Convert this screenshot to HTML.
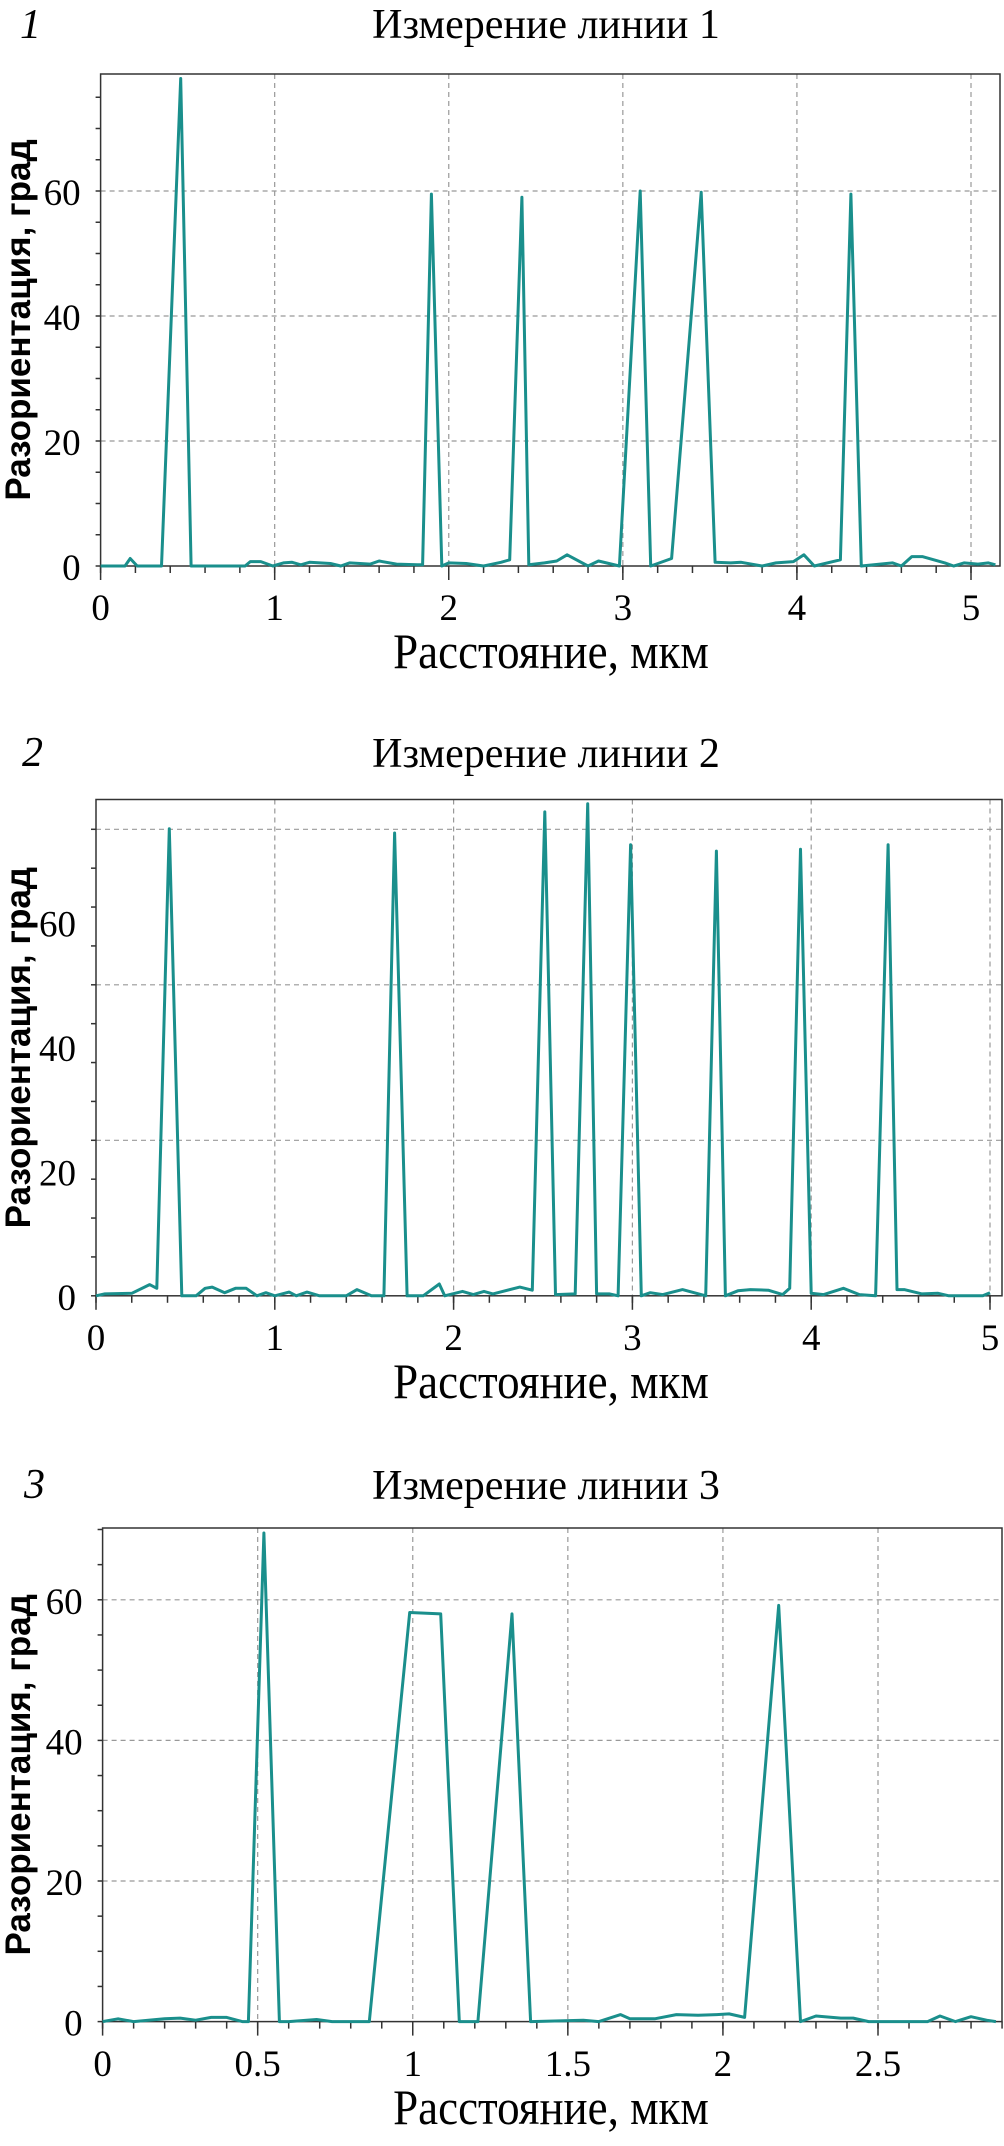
<!DOCTYPE html>
<html><head><meta charset="utf-8">
<style>
html,body{margin:0;padding:0;background:#fff;}
svg{display:block;}
text{font-family:"Liberation Serif",serif;fill:#000;}
</style></head>
<body>
<svg id="fig" width="1004" height="2146" viewBox="0 0 1004 2146" xmlns="http://www.w3.org/2000/svg"></svg>
<script>
// Chart 1 data
const x1 = [0,0.14,0.17,0.21,0.35,0.46,0.52,0.83,0.86,0.92,0.99,1.05,1.1,1.15,1.2,1.32,1.38,1.43,1.55,1.6,1.7,1.82,1.85,1.9,1.96,2.0,2.1,2.2,2.3,2.35,2.42,2.46,2.55,2.62,2.68,2.8,2.86,2.98,3.1,3.16,3.2,3.28,3.45,3.53,3.62,3.68,3.8,3.88,3.98,4.04,4.1,4.25,4.31,4.37,4.55,4.6,4.66,4.72,4.85,4.9,4.96,5.04,5.1,5.14];
const y1 = [0,0,1.2,0,0,78,0,0,0.7,0.7,0,0.5,0.6,0.2,0.6,0.4,0,0.5,0.3,0.8,0.3,0.2,0.2,59.5,0,0.5,0.4,0,0.6,1.0,59,0.2,0.5,0.8,1.8,0,0.8,0,60,0,0.4,1.2,59.8,0.6,0.5,0.6,0,0.5,0.7,1.8,0,1.0,59.5,0,0.5,0,1.5,1.5,0.5,0,0.5,0.3,0.5,0.2];
const xTicks1 = ["0","1","2","3","4","5"];
const yTicks1 = ["0","20","40","60"];
// Chart 2 data
const x2 = [0,0.05,0.2,0.3,0.34,0.41,0.48,0.56,0.61,0.65,0.72,0.78,0.84,0.9,0.95,1.0,1.08,1.12,1.18,1.25,1.4,1.46,1.54,1.61,1.67,1.74,1.83,1.92,1.95,2.05,2.11,2.17,2.22,2.37,2.44,2.51,2.57,2.68,2.75,2.8,2.87,2.92,2.99,3.05,3.1,3.17,3.28,3.41,3.47,3.52,3.59,3.66,3.76,3.84,3.88,3.94,4.0,4.07,4.18,4.27,4.36,4.43,4.48,4.52,4.62,4.71,4.77,4.96,5.0];
const y2 = [0,0.3,0.4,1.8,1.2,75.1,0,0,1.2,1.4,0.5,1.2,1.2,0,0.5,0,0.6,0,0.6,0,0,1.0,0,0,74.4,0,0,1.9,0,0.7,0.2,0.7,0.3,1.4,0.9,77.8,0.2,0.3,79.1,0.3,0.3,0,72.5,0,0.5,0.2,1.0,0,71.5,0,0.8,1.0,0.9,0.2,1.2,71.8,0.4,0.2,1.2,0.2,0,72.5,1.0,1.0,0.3,0.4,0,0,0.5];
const xTicks2 = ["0","1","2","3","4","5"];
const yTicks2 = ["0","20","40","60"];
// Chart 3 data
const x3 = [0,0.05,0.1,0.2,0.25,0.3,0.35,0.4,0.45,0.47,0.52,0.57,0.6,0.69,0.74,0.86,0.99,1.09,1.15,1.21,1.32,1.38,1.55,1.6,1.67,1.7,1.78,1.85,1.92,1.98,2.02,2.07,2.18,2.25,2.3,2.38,2.42,2.47,2.66,2.7,2.75,2.8,2.85,2.88];
const y3 = [0,0.4,0,0.4,0.5,0.2,0.6,0.6,0,0,69.5,0,0,0.3,0,0,58.2,58.0,0,0,58,0,0.2,0,1.0,0.4,0.4,1.0,0.9,1.0,1.1,0.6,59.2,0,0.8,0.5,0.5,0,0,0.8,0,0.7,0.2,0];
const xTicks3 = ["0","0.5","1","1.5","2","2.5"];
const yTicks3 = ["0","20","40","60"];

const NS="http://www.w3.org/2000/svg";
const svg=document.getElementById('fig');
function mk(tag,attrs,parent,txt){const e=document.createElementNS(NS,tag);for(const k in attrs)e.setAttribute(k,attrs[k]);if(txt!==undefined)e.textContent=txt;(parent||svg).appendChild(e);return e;}

function chart(c){
  const g=mk('g',{});
  
  
  const X=v=>c.L+v*(c.x1px-c.L)/c.xUnitVal;
  const Y=v=>c.y0-v*c.ppu;
  const right=c.R, top=c.T, bottom=c.y0;
  const pn=mk('text',{x:c.numX,y:c.numY,'font-size':42,'font-style':'italic'},g,String(c.id));
  
  
  const tt=mk('text',{x:546,y:c.titleY,'font-size':42,'text-anchor':'middle'},g,'Измерение линии '+c.id);
  
  
  c.xTicks.forEach(t=>{const v=parseFloat(t);if(v===0)return;const px=X(v);
    const l=mk('line',{x1:px,x2:px,y1:top,y2:bottom,stroke:'#999','stroke-width':1.2,'stroke-dasharray':'5,4'},g);
    });
  c.yGrid.forEach(v=>{const py=Y(v);
    const l=mk('line',{x1:c.L,x2:right,y1:py,y2:py,stroke:'#999','stroke-width':1.2,'stroke-dasharray':'5,4'},g);
    });
  const fr=mk('rect',{x:c.L,y:top,width:right-c.L,height:bottom-top,fill:'none',stroke:'#333','stroke-width':1.5},g);
  
  for(let v=0;X(v)<=right+0.5;v=+(v+c.xMinor).toFixed(4)){const px=X(v);
    mk('line',{x1:px,x2:px,y1:bottom,y2:bottom+7,stroke:'#333','stroke-width':1.5},g);}
  for(let v=0;Y(v)>=top-0.5;v=+(v+c.yMinor).toFixed(4)){const py=Y(v);
    mk('line',{x1:c.L-5,x2:c.L,y1:py,y2:py,stroke:'#333','stroke-width':1.5},g);}
  c.xTicks.forEach(t=>{const px=X(parseFloat(t));
    mk('line',{x1:px,x2:px,y1:bottom,y2:bottom+14,stroke:'#333','stroke-width':1.5},g);
    const e=mk('text',{x:px,y:c.xLabY,'font-size':37,'text-anchor':'middle'},g,t);
    });
  c.yTicks.forEach(t=>{const py=Y(parseFloat(t));
    const e=mk('text',{x:c.L-20,y:py+14,'font-size':37,'text-anchor':'end'},g,t);
    });
  const xt=mk('text',{x:0,y:0,'font-size':45,'text-anchor':'middle',transform:'translate(551,'+c.xTitleY+') scale(1,1.1)'},g,'Расстояние, мкм');
  
  const cy=(top+bottom)/2;
  const yt=mk('text',{x:0,y:0,'font-size':35,'font-weight':'bold','text-anchor':'middle',
    style:'font-family:"Liberation Sans",sans-serif',transform:'translate(30,'+cy+') rotate(-90)'},g,'Разориентация, град');
  
  const pts=c.xs.map((v,i)=>X(v).toFixed(1)+','+Y(c.ys[i]).toFixed(1)).join(' ');
  const pl=mk('polyline',{points:pts,fill:'none',stroke:'#1a8f8c','stroke-width':3,'stroke-linejoin':'round'},g);
  
  
}

chart({id:1,L:100.6,R:1000,T:74,y0:566,ppu:6.25,x1px:971,xUnitVal:5,xs:x1,ys:y1,xTicks:xTicks1,yTicks:yTicks1,yGrid:[20,40,60],
  xMinor:0.2,yMinor:5,numX:20,numY:38,titleY:38,xLabY:620,xTitleY:668});
chart({id:2,L:96,R:1002,T:799.5,y0:1295.8,ppu:6.22,x1px:990,xUnitVal:5,xs:x2,ys:y2,xTicks:xTicks2,yTicks:yTicks2,yGrid:[25,50,75],
  xMinor:0.2,yMinor:6.25,numX:22,numY:766,titleY:767,xLabY:1350,xTitleY:1398});
chart({id:3,L:102.6,R:1002,T:1528,y0:2021.6,ppu:7.03,x1px:878,xUnitVal:2.5,xs:x3,ys:y3,xTicks:xTicks3,yTicks:yTicks3,yGrid:[20,40,60],
  xMinor:0.1,yMinor:5,numX:24,numY:1498,titleY:1499,xLabY:2076,xTitleY:2124});
</script>
</body></html>
